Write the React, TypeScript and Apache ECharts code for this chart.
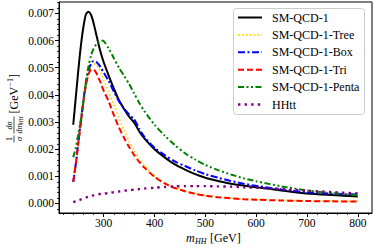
import React, { useEffect, useRef } from "react";
import * as echarts from "echarts";

const mHH = [240, 245, 250, 255, 260, 265, 270, 275, 280, 285, 290, 295, 300, 310, 320, 330, 340, 350, 360, 370, 380, 400, 420, 440, 460, 480, 500, 525, 550, 575, 600, 650, 700, 750, 800];

const smQcd1 = [0.0029, 0.0039, 0.0049, 0.0058, 0.0065, 0.00697, 0.00706, 0.00695, 0.00665, 0.00625, 0.00585, 0.0055, 0.0052, 0.0047, 0.00423, 0.0038, 0.00348, 0.0032, 0.00298, 0.00265, 0.0024, 0.002, 0.0017, 0.00144, 0.00125, 0.00108, 0.00095, 0.00083, 0.00073, 0.00066, 0.0006, 0.00048, 0.00037, 0.00031, 0.00026];
const smQcd1Tree = [0.0008, 0.0014, 0.00215, 0.0029, 0.00365, 0.0043, 0.00478, 0.00505, 0.00515, 0.00512, 0.00498, 0.00478, 0.00455, 0.0041, 0.00365, 0.00315, 0.0027, 0.0023, 0.00195, 0.00165, 0.0014, 0.00101, 0.00076, 0.00058, 0.00046, 0.00037, 0.0003, 0.00024, 0.0002, 0.00017, 0.00015, 0.00012, 0.0001, 0.00009, 0.00008];
const smQcd1Box = [0.0008, 0.00145, 0.00225, 0.003, 0.0038, 0.00445, 0.0049, 0.00515, 0.00525, 0.00522, 0.00512, 0.00498, 0.00482, 0.0045, 0.00412, 0.00377, 0.0035, 0.00328, 0.0031, 0.00275, 0.00245, 0.00205, 0.00178, 0.00155, 0.00138, 0.00122, 0.00108, 0.00095, 0.00083, 0.00073, 0.00065, 0.00052, 0.00041, 0.00036, 0.00033];
const smQcd1Tri = [0.0008, 0.00145, 0.00222, 0.00298, 0.00375, 0.00435, 0.00475, 0.00492, 0.00493, 0.00482, 0.00462, 0.0044, 0.00415, 0.00375, 0.00325, 0.0028, 0.00242, 0.00208, 0.00178, 0.00153, 0.00132, 0.00098, 0.00074, 0.00057, 0.00045, 0.00036, 0.00029, 0.00023, 0.00019, 0.00016, 0.00014, 0.00011, 0.00009, 0.00008, 0.00007];
const smQcd1Penta = [0.0017, 0.00205, 0.00255, 0.0031, 0.00375, 0.00445, 0.00505, 0.00545, 0.0057, 0.00585, 0.00595, 0.006, 0.00598, 0.0057, 0.00535, 0.005, 0.0047, 0.0044, 0.00405, 0.0037, 0.0034, 0.0029, 0.0025, 0.00215, 0.00185, 0.00162, 0.00142, 0.00123, 0.00107, 0.00093, 0.00082, 0.00063, 0.00048, 0.00038, 0.0003];
const hhtt = [0.00005, 0.00008, 0.00012, 0.00015, 0.00019, 0.00022, 0.00025, 0.00028, 0.0003, 0.00032, 0.00034, 0.00035, 0.00036, 0.00039, 0.00042, 0.00044, 0.00047, 0.00049, 0.00051, 0.00053, 0.00055, 0.00058, 0.00061, 0.00063, 0.00064, 0.00064, 0.00064, 0.00063, 0.00062, 0.0006, 0.00058, 0.00053, 0.00047, 0.00042, 0.00037];

const seriesNames = ["SM-QCD-1", "SM-QCD-1-Tree", "SM-QCD-1-Box", "SM-QCD-1-Tri", "SM-QCD-1-Penta", "HHtt"];
const seriesData = [smQcd1, smQcd1Tree, smQcd1Box, smQcd1Tri, smQcd1Penta, hhtt];

const xTicks = [300, 400, 500, 600, 700, 800];
const xMinorTicks = [220, 240, 260, 280, 300, 320, 340, 360, 380, 400, 420, 440, 460, 480, 500, 520, 540, 560, 580, 600, 620, 640, 660, 680, 700, 720, 740, 760, 780, 800, 820];
const yTicks = [0, 0.001, 0.002, 0.003, 0.004, 0.005, 0.006, 0.007];
const yMinorTicks = [-0.0002, 0, 0.0002, 0.0004, 0.0006, 0.0008, 0.001, 0.0012, 0.0014, 0.0016, 0.0018, 0.002, 0.0022, 0.0024, 0.0026, 0.0028, 0.003, 0.0032, 0.0034, 0.0036, 0.0038, 0.004, 0.0042, 0.0044, 0.0046, 0.0048, 0.005, 0.0052, 0.0054, 0.0056, 0.0058, 0.006, 0.0062, 0.0064, 0.0066, 0.0068, 0.007, 0.0072, 0.0074];

const FONT = "Liberation Serif";

const styles = [
  { color: "#000000", width: 2, type: "solid" as any },
  { color: "#FFD700", width: 1.7, type: [1.7, 2.2] },
  { color: "#0000FF", width: 2, type: [7, 2.5, 2, 2.5] },
  { color: "#FF0000", width: 2, type: [6, 3] },
  { color: "#008000", width: 2, type: [6, 2.5, 2, 2.5, 2, 2.5] },
  { color: "#800080", width: 2.4, type: [2.4, 4.2] },
];

export default function App() {
  const ref = useRef<HTMLDivElement>(null);
  useEffect(() => {
    if (!ref.current) return;
    const chart = echarts.init(ref.current, null, { renderer: "svg" });

    const legendRows = seriesNames.map((name, i) => {
      const y = 17.5 + i * 17.4;
      return [
        {
          type: "line",
          shape: { x1: 238, y1: y, x2: 262, y2: y },
          style: { stroke: styles[i].color, lineWidth: styles[i].width, lineDash: styles[i].type === "solid" ? null : styles[i].type, lineCap: "butt" },
          z: 101,
        },
        {
          type: "text",
          x: 272,
          y: y,
          style: { text: name, fill: "#000", font: `12px "${FONT}"`, textAlign: "left", textVerticalAlign: "middle" },
          z: 101,
        },
      ];
    }).flat();

    const option: any = {
      animation: false,
      grid: { left: 59, right: 2, top: 2, bottom: 36, show: true, borderColor: "#000", borderWidth: 1, backgroundColor: "transparent" },
      xAxis: [
        {
          type: "value", min: 212, max: 828,
          axisLine: { show: true, onZero: false, lineStyle: { color: "#000", width: 1 } },
          splitLine: { show: false },
          axisTick: { show: true, customValues: xTicks, length: 4, lineStyle: { color: "#000", width: 1 } },
          axisLabel: { customValues: xTicks, color: "#000", fontFamily: FONT, fontSize: 11.5, margin: 4 },
        },
        {
          type: "value", min: 212, max: 828, position: "bottom",
          axisLine: { show: false, onZero: false },
          splitLine: { show: false },
          axisTick: { show: true, customValues: xMinorTicks, length: 2, lineStyle: { color: "#000", width: 0.8 } },
          axisLabel: { show: false },
        },
      ],
      yAxis: [
        {
          type: "value", min: -0.00035, max: 0.00742,
          axisLine: { show: true, onZero: false, lineStyle: { color: "#000", width: 1 } },
          splitLine: { show: false },
          axisTick: { show: true, customValues: yTicks, length: 4, lineStyle: { color: "#000", width: 1 } },
          axisLabel: { customValues: yTicks, color: "#000", fontFamily: FONT, fontSize: 11.5, margin: 5, formatter: (v: number) => v.toFixed(3) },
        },
        {
          type: "value", min: -0.00035, max: 0.00742, position: "left",
          axisLine: { show: false, onZero: false },
          splitLine: { show: false },
          axisTick: { show: true, customValues: yMinorTicks, length: 2, lineStyle: { color: "#000", width: 0.8 } },
          axisLabel: { show: false },
        },
      ],
      series: seriesData.map((vals, i) => ({
        name: seriesNames[i],
        type: "line",
        xAxisIndex: 0,
        yAxisIndex: 0,
        data: mHH.map((x, j) => [x, vals[j]]),
        showSymbol: false,
        symbol: "none",
        smooth: 0.25,
        clip: true,
        lineStyle: { color: styles[i].color, width: styles[i].width, type: styles[i].type, cap: "butt" },
        z: 2 + i,
      })),
      graphic: [
        {
          type: "rect",
          shape: { x: 233.5, y: 8.5, width: 131, height: 106, r: 3 },
          style: { fill: "rgba(255,255,255,0.8)", stroke: "#cccccc", lineWidth: 1 },
          z: 100,
        },
        ...legendRows,
        {
          type: "group", x: 14, y: 101, rotation: Math.PI / 2,
          children: [
            { type: "text", x: -38, y: -5, style: { text: "1", fill: "#000", font: `9px "${FONT}"`, textAlign: "center", textVerticalAlign: "middle" } },
            { type: "line", shape: { x1: -41.5, y1: 0, x2: -34.5, y2: 0 }, style: { stroke: "#000", lineWidth: 0.7 } },
            { type: "text", x: -38, y: 5, style: { text: "σ", fill: "#000", font: `italic 9px "${FONT}"`, textAlign: "center", textVerticalAlign: "middle" } },
            { type: "text", x: -24.5, y: -5, style: { text: "dσ", fill: "#000", font: `italic 8px "${FONT}"`, textAlign: "center", textVerticalAlign: "middle" } },
            { type: "line", shape: { x1: -32.5, y1: 0, x2: -15.5, y2: 0 }, style: { stroke: "#000", lineWidth: 0.7 } },
            { type: "text", x: -32.5, y: 5, style: { text: "dm", fill: "#000", font: `italic 8px "${FONT}"`, textAlign: "left", textVerticalAlign: "middle" } },
            { type: "text", x: -23.5, y: 7, style: { text: "HH", fill: "#000", font: `italic 5.5px "${FONT}"`, textAlign: "left", textVerticalAlign: "middle" } },
            { type: "text", x: -12.5, y: 0, style: { text: "[GeV", fill: "#000", font: `12px "${FONT}"`, textAlign: "left", textVerticalAlign: "middle" } },
            { type: "text", x: 14.5, y: -4, style: { text: "−1", fill: "#000", font: `8px "${FONT}"`, textAlign: "left", textVerticalAlign: "middle" } },
            { type: "text", x: 23, y: 0, style: { text: "]", fill: "#000", font: `12px "${FONT}"`, textAlign: "left", textVerticalAlign: "middle" } },
          ],
        },
        { type: "text", x: 186, y: 238, style: { text: "m", fill: "#000", font: `italic 12px "${FONT}"`, textAlign: "left", textVerticalAlign: "middle" } },
        { type: "text", x: 195, y: 241, style: { text: "HH", fill: "#000", font: `italic 8px "${FONT}"`, textAlign: "left", textVerticalAlign: "middle" } },
        { type: "text", x: 210, y: 238, style: { text: "[GeV]", fill: "#000", font: `12px "${FONT}"`, textAlign: "left", textVerticalAlign: "middle" } },
      ],
    };
    chart.setOption(option);
    return () => chart.dispose();
  }, []);
  return <div ref={ref} style={{ position: "absolute", left: 0, top: 0, width: 374, height: 249 }} />;
}
